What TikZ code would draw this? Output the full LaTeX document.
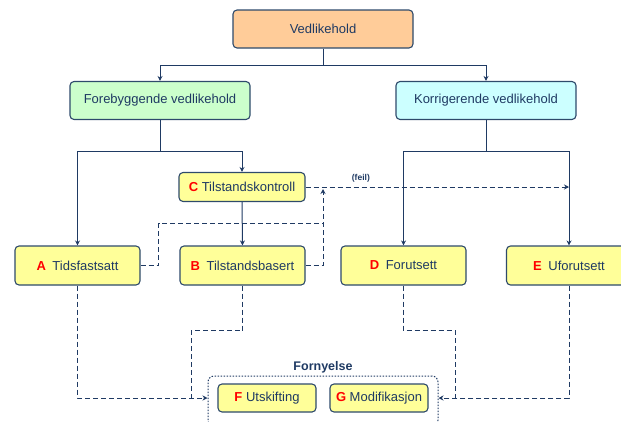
\documentclass[tikz,border=0pt]{standalone}
\usepackage{fontspec}
\setmainfont{Liberation Sans}
\usetikzlibrary{arrows.meta}
\definecolor{navy}{HTML}{1F3A63}
\definecolor{boxline}{HTML}{2E4A6B}
\definecolor{orangefill}{HTML}{FFCC99}
\definecolor{greenfill}{HTML}{CCFFCC}
\definecolor{cyanfill}{HTML}{CCFFFF}
\definecolor{yellowfill}{HTML}{FFFF99}
\newcommand{\letr}[1]{\textcolor{red}{\bfseries #1}}
\tikzset{
  box/.style={draw=boxline,line width=1.1pt,rounded corners=4pt,text=navy,
    font=\fontsize{13}{15}\selectfont,inner sep=0pt},
  topbox/.style={box,minimum width=180pt,minimum height=38pt},
  typebox/.style={box,fill=yellowfill,minimum width=125pt,minimum height=39pt},
  smallbox/.style={box,fill=yellowfill,minimum width=98pt,minimum height=28pt},
  link/.style={draw=navy,line width=1pt,-{Stealth[length=5pt,width=5pt]}},
  plain/.style={draw=navy,line width=1pt},
  dlink/.style={link,dash pattern=on 5pt off 3pt},
  dplain/.style={plain,dash pattern=on 5pt off 3pt}
}
\begin{document}
\begin{tikzpicture}[x=1pt,y=-1pt]
  \useasboundingbox (0,0) rectangle (621,421);
  %% main levels
  \node[topbox,fill=orangefill] (ved) at (323,29) {Vedlikehold};
  \node[topbox,fill=greenfill] (fore) at (160,100.5) {Forebyggende vedlikehold};
  \node[topbox,fill=cyanfill] (korr) at (486,100.5) {Korrigerende vedlikehold};
  %% types
  \node[box,fill=yellowfill,minimum width=126pt,minimum height=29pt] (tk) at (242,187) {\letr{C} Tilstandskontroll};
  \node[typebox] (tid) at (77.5,265.5) {\letr{A}\enspace Tidsfastsatt};
  \node[typebox] (tb) at (242.5,265.5) {\letr{B}\enspace Tilstandsbasert};
  \node[typebox] (fo) at (403.5,265.5) {\letr{D}\enspace Forutsett};
  \node[typebox] (ufo) at (569,265.5) {\letr{E}\enspace Uforutsett};
  %% renewal
  \node[draw=navy,line width=1pt,dash pattern=on 1.5pt off 1.5pt,rounded corners=6pt,
    minimum width=230pt,minimum height=50pt,
    label={[name=fornlbl,text=navy,font=\fontsize{12.5}{14}\selectfont\bfseries,inner sep=2pt]above:Fornyelse}]
    (forn) at (323,401) {};
  \node[smallbox] (uts) at (267,398) {\letr{F} Utskifting};
  \node[smallbox] (mod) at (379,398) {\letr{G} Modifikasjon};
  \coordinate (cup) at (323,189);
  \coordinate (feilend) at (569,187);
  \coordinate (bl) at (191,398);
  \coordinate (dr) at (455,398);
  %% solid tree
  \draw[link] (ved.south) -- ++(0,17) -| (fore.north);
  \draw[link] (ved.south) -- ++(0,17) -| (korr.north);
  \draw[link] (fore.south) -- ++(0,31.5) -| (tid.north);
  \draw[link] (fore.south) -- ++(0,31.5) -| (tk.north);
  \draw[link] (korr.south) -- ++(0,31.5) -| (fo.north);
  \draw[link] (korr.south) -- ++(0,31.5) -| (ufo.north);
  \draw[link] (tk.south) -- (tb.north);
  %% dashed links
  \draw[dlink] (tk.east) -- (feilend)
    node[pos=0.21,above=1pt,text=navy,font=\fontsize{8.5}{10}\selectfont\bfseries] (feil) {(feil)};
  \draw[dplain] (tid.east) -- ++(18,0) |- (323,223);
  \draw[dlink] (tb.east) -| (cup);
  \draw[dlink] (tid.south) |- (uts -| forn.west);
  \draw[dplain] (tb.south) -- ++(0,45) -| (bl);
  \draw[dlink] (ufo.south) |- (mod -| forn.east);
  \draw[dplain] (fo.south) -- ++(0,45) -| (dr);
\end{tikzpicture}
\end{document}
